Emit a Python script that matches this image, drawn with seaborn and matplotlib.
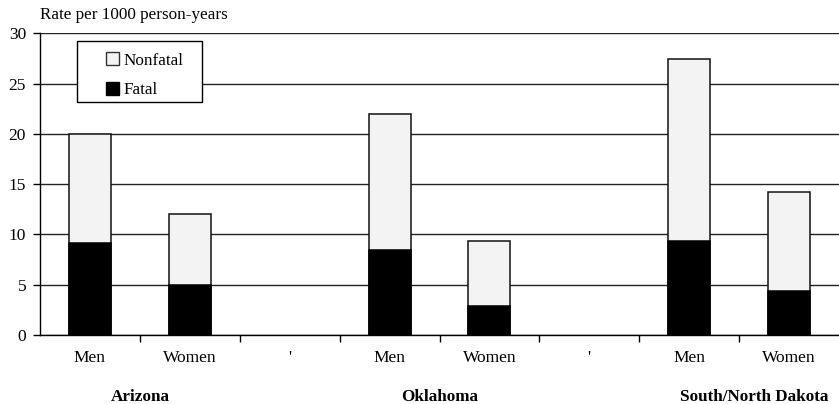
import matplotlib
matplotlib.use("Agg")
import matplotlib.pyplot as plt
import matplotlib.patches as mpatches
import seaborn as sns
import pandas as pd

# ---- data ----
states = ["Arizona", "Oklahoma", "South/North Dakota"]
sexes = ["Men", "Women"]
fatal = [9.1, 5.0, 8.45, 2.85, 9.35, 4.35]
nonfatal = [10.9, 7.0, 13.55, 6.45, 18.05, 9.9]
slot_keys = ["AZ-Men", "AZ-Women", "gap1", "OK-Men", "OK-Women", "gap2", "SD-Men", "SD-Women"]
slot_labels = ["Men", "Women", "'", "Men", "Women", "'", "Men", "Women"]
y_label = "Rate per 1000 person-years"

bar_keys = [k for k in slot_keys if not k.startswith("gap")]
df = pd.DataFrame({
    "slot": bar_keys,
    "fatal": fatal,
    "nonfatal": nonfatal,
})
df["total"] = df["fatal"] + df["nonfatal"]

sns.set_theme(style="white")
plt.rcParams["font.family"] = ["Liberation Serif", "DejaVu Serif"]

NONFATAL_FC = "#f3f3f3"

fig = plt.figure(figsize=(8.39, 4.04), dpi=100)
ax = fig.add_axes([40 / 839, 1 - 335 / 404, 799 / 839, (335 - 33.3) / 404])

sns.barplot(data=df, x="slot", y="total", order=slot_keys, color=NONFATAL_FC,
            width=0.42, edgecolor="#111111", linewidth=1.1, saturation=1,
            ax=ax, zorder=3)
sns.barplot(data=df, x="slot", y="fatal", order=slot_keys, color="black",
            width=0.42, edgecolor="black", linewidth=1.1, saturation=1,
            ax=ax, zorder=4)

ax.set_xlim(-0.5, 7.5)
ax.set_ylim(0, 30)
ax.set_yticks([0, 5, 10, 15, 20, 25, 30])
ax.yaxis.grid(True, color="#222222", linewidth=1.0, zorder=1)
ax.set_axisbelow(True)
ax.set_xticks(range(len(slot_keys)))
ax.set_xticklabels(slot_labels)
ax.set_xticks([i + 0.5 for i in range(len(slot_keys) - 1)], minor=True)
ax.tick_params(axis="x", which="major", length=0, pad=10.5, labelsize=12.5, colors="black")
ax.tick_params(axis="x", which="minor", bottom=True, length=5, width=1, direction="out", color="black")
ax.tick_params(axis="y", which="major", left=True, length=5, width=1, direction="out",
               pad=5, labelsize=12.5, colors="black")
ax.set_xlabel("")
ax.set_ylabel("")
for s in ["top", "right"]:
    ax.spines[s].set_visible(False)
for s in ["left", "bottom"]:
    ax.spines[s].set_color("black")
    ax.spines[s].set_linewidth(1.0)
    ax.spines[s].set_zorder(5)

# group labels
group_pos = [0.5, 3.5, 6.65]
for name, xp in zip(states, group_pos):
    ax.text(xp, -0.207, name, transform=ax.get_xaxis_transform(), ha="center",
            va="center", fontsize=12.3, fontweight="bold", color="black")

fig.text(40 / 839, 1 - 15 / 404, y_label, ha="left", va="center", fontsize=12.3, color="black")

# legend box (frame drawn separately)
box = mpatches.Rectangle((0.0463, 0.7723), 0.2028 - 0.0463, 0.9745 - 0.7723,
                         transform=ax.transAxes, facecolor="white", edgecolor="black",
                         linewidth=1.0, zorder=6)
ax.add_patch(box)

handles = [mpatches.Patch(facecolor=NONFATAL_FC, edgecolor="#333333", label="Nonfatal"),
           mpatches.Patch(facecolor="black", edgecolor="black", label="Fatal")]
leg = ax.legend(handles=handles, loc="upper left", bbox_to_anchor=(0.0826, 0.937),
                frameon=False, fontsize=12.3, handlelength=0.75, handleheight=0.75,
                handletextpad=0.25, borderpad=0, labelspacing=0.8, borderaxespad=0)
leg.set_zorder(7)
for t in leg.get_texts():
    t.set_color("black")

fig.savefig("out.png", dpi=100)
